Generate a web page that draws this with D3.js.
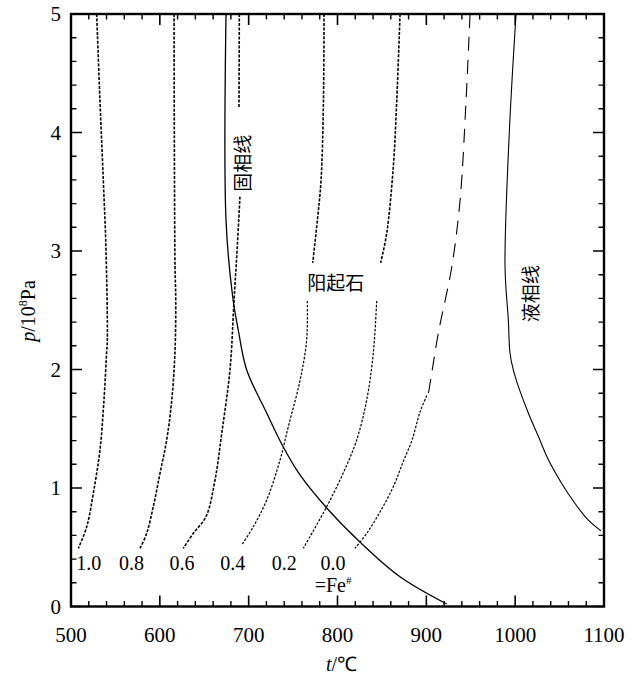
<!DOCTYPE html>
<html>
<head>
<meta charset="utf-8">
<script src="https://cdn.jsdelivr.net/npm/d3@7/dist/d3.min.js"></script>
<style>
  body { margin: 0; background: #fff; }
  svg { display: block; }
</style>
</head>
<body>
<script>
// curves: [t (°C), p (10^8 Pa)]
const feLabels = ["1.0", "0.8", "0.6", "0.4", "0.2", "0.0"];
const feLabelT = [520, 568, 625, 682, 740, 795];

const fe10 = [[528.9, 5], [532.6, 4.27], [536.4, 3.59], [539.4, 3.01], [540.9, 2.25], [540.2, 2.16],
  [537.1, 1.74], [532.6, 1.32], [525.1, 0.955], [517.7, 0.673], [508.2, 0.491]];
const fe08 = [[616, 5], [616.3, 4.0], [617.1, 2.865], [617.9, 2.59], [617.1, 2.16], [613.4, 1.74],
  [607.7, 1.405], [600.2, 1.124], [592.6, 0.842], [585.2, 0.618], [577.7, 0.491]];
const fe06Top = [[689.5, 5], [689.1, 4.215]];
const fe06 = [[690.2, 3.458], [686.9, 3.0], [683.5, 2.578], [679.0, 2.0], [670.0, 1.477],
  [662.1, 1.068], [652.0, 0.759], [637.7, 0.618], [626.4, 0.491]];
const fe04Top = [[784.8, 5], [784.2, 4.27], [781.5, 3.6], [777.5, 3.27], [772.1, 2.9]];
const fe04 = [[766, 2.578], [765.3, 2.25], [757.8, 1.907], [744.6, 1.517], [735.3, 1.236],
  [720.3, 0.899], [705.2, 0.673], [692.2, 0.519]];
const fe02Top = [[870.4, 5], [866.7, 4.27], [862.8, 3.71], [855.4, 3.15], [848.6, 2.9]];
const fe02 = [[844.1, 2.578], [840.3, 2.139], [832.9, 1.743], [821.6, 1.405], [806.5, 1.127],
  [787.8, 0.842], [761.5, 0.491]];
const fe00Top = [[949.2, 5], [944.7, 4.27], [938, 3.43], [928.6, 2.865], [913.5, 2.308],
  [906.1, 1.97], [902.2, 1.79]];
const fe00 = [[900.5, 1.78], [892.9, 1.641], [883.9, 1.405], [873.8, 1.219], [862.8, 1.011],
  [847.8, 0.797], [833.2, 0.62], [819.7, 0.491]];

const solidus = [[674.5, 5], [674.5, 3.262], [682.0, 2.614], [688.3, 2.333], [697.8, 1.996],
  [720.3, 1.633], [739.0, 1.346], [757.8, 1.11], [787.9, 0.831], [825.3, 0.544],
  [870.4, 0.251], [922.9, 0.021]];
const liquidus = [[1001.0, 5], [993.4, 4.0], [988.6, 2.865], [992.3, 2.418], [994.2, 2.137],
  [997.9, 1.996], [1003.6, 1.857], [1014.8, 1.633], [1026.1, 1.436], [1037.3, 1.24],
  [1052.4, 1.038], [1067.4, 0.869], [1082.4, 0.728], [1096.6, 0.638]];

const xTicks = [500, 600, 700, 800, 900, 1000, 1100];
const yTicks = [0, 1, 2, 3, 4, 5];

// set the dimensions and margins of the graph
const margin = {top: 14, right: 28, bottom: 68.5, left: 71};
const width = 632 - margin.left - margin.right;
const height = 675 - margin.top - margin.bottom;
const serif = "'Liberation Serif', 'Times New Roman', serif";

const svg = d3.select("body").append("svg")
    .attr("width", 632)
    .attr("height", 675)
    .attr("font-family", serif);

const g = svg.append("g")
    .attr("transform", "translate(" + margin.left + "," + margin.top + ")");

const x = d3.scaleLinear().domain([500, 1100]).range([0, width]);
const y = d3.scaleLinear().domain([0, 5]).range([height, 0]);

const xMinor = d3.range(500, 1101, 20).filter(v => v % 100 !== 0);
const yMinor = d3.range(0, 5.01, 0.2).map(v => +v.toFixed(1)).filter(v => v % 1 !== 0);

// inward ticks on all four sides, one path per tick size
function tickPath(len) {
    const p = d3.path();
    const xs = len > 6 ? xTicks : xMinor;
    const ys = len > 6 ? yTicks : yMinor;
    xs.forEach(v => {
        p.moveTo(x(v), height); p.lineTo(x(v), height - len);
        p.moveTo(x(v), 0); p.lineTo(x(v), len);
    });
    ys.forEach(v => {
        p.moveTo(0, y(v)); p.lineTo(len, y(v));
        p.moveTo(width, y(v)); p.lineTo(width - len, y(v));
    });
    return p.toString();
}
g.append("path")
    .attr("d", tickPath(11))
    .attr("fill", "none")
    .attr("stroke", "#000")
    .attr("stroke-width", 1.6);
g.append("path")
    .attr("d", tickPath(5.5))
    .attr("fill", "none")
    .attr("stroke", "#000")
    .attr("stroke-width", 1.4);

// frame
g.append("rect")
    .attr("width", width)
    .attr("height", height)
    .attr("fill", "none")
    .attr("stroke", "#000")
    .attr("stroke-width", 2.4);

// tick labels
g.selectAll(".xlab")
    .data(xTicks)
    .enter().append("text")
    .attr("class", "xlab")
    .attr("x", d => x(d))
    .attr("y", height + 35.5)
    .attr("text-anchor", "middle")
    .attr("font-size", 21)
    .text(d => d);
g.selectAll(".ylab")
    .data(yTicks)
    .enter().append("text")
    .attr("class", "ylab")
    .attr("x", -10)
    .attr("y", d => y(d) + 7)
    .attr("text-anchor", "end")
    .attr("font-size", 21)
    .text(d => d);

const line = d3.line()
    .x(d => x(d[0]))
    .y(d => y(d[1]))
    .curve(d3.curveCatmullRom.alpha(0.5));

function drawCurve(data, w, dash) {
    const p = g.append("path")
        .datum(data)
        .attr("fill", "none")
        .attr("stroke", "#000")
        .attr("stroke-width", w)
        .attr("d", line);
    if (dash) p.attr("stroke-dasharray", dash);
}

// Fe# isopleths
[fe10, fe08, fe06Top, fe06, fe04Top, fe02Top].forEach(d => drawCurve(d, 1.6, "3,1.5"));
[fe04, fe02, fe00].forEach(d => drawCurve(d, 1.2, "2.5,1.5"));
drawCurve(fe00Top, 1.1, "14,9");

// solidus and liquidus
drawCurve(solidus, 1.3, null);
drawCurve(liquidus, 1.1, null);

// Fe# labels
g.selectAll(".fe-label")
    .data(feLabels)
    .enter().append("text")
    .attr("class", "fe-label")
    .attr("x", (d, i) => x(feLabelT[i]))
    .attr("y", y(0.31))
    .attr("text-anchor", "middle")
    .attr("font-size", 20)
    .text(d => d);

const feText = g.append("text")
    .attr("x", x(795))
    .attr("y", y(0.12))
    .attr("text-anchor", "middle")
    .attr("font-size", 20);
feText.append("tspan").text("=Fe");
feText.append("tspan").attr("dy", -8).attr("font-size", 11).text("#");

// region / curve names
const cjk = "'Noto Sans CJK SC', sans-serif";
g.append("text")
    .attr("transform", "translate(" + x(694) + "," + y(3.74) + ") rotate(-90)")
    .attr("text-anchor", "middle")
    .attr("dy", "0.35em")
    .attr("font-family", cjk)
    .attr("font-size", 19)
    .text("固相线");
g.append("text")
    .attr("transform", "translate(" + x(1018) + "," + y(2.64) + ") rotate(-90)")
    .attr("text-anchor", "middle")
    .attr("dy", "0.35em")
    .attr("font-family", cjk)
    .attr("font-size", 19)
    .text("液相线");
g.append("text")
    .attr("x", x(798))
    .attr("y", y(2.73))
    .attr("text-anchor", "middle")
    .attr("dy", "0.35em")
    .attr("font-family", cjk)
    .attr("font-size", 19)
    .text("阳起石");

// axis titles
const xTitle = svg.append("text")
    .attr("x", margin.left + width / 2 + 4)
    .attr("y", 671)
    .attr("text-anchor", "middle")
    .attr("font-size", 20);
xTitle.append("tspan").attr("font-style", "italic").text("t");
xTitle.append("tspan").text("/℃");

const yTitle = svg.append("text")
    .attr("transform", "translate(35,311) rotate(-90)")
    .attr("text-anchor", "middle")
    .attr("font-size", 20);
yTitle.append("tspan").attr("font-style", "italic").text("p");
yTitle.append("tspan").text("/10");
yTitle.append("tspan").attr("dy", -8).attr("font-size", 12).text("8");
yTitle.append("tspan").attr("dy", 8).text("Pa");
</script>
</body>
</html>
